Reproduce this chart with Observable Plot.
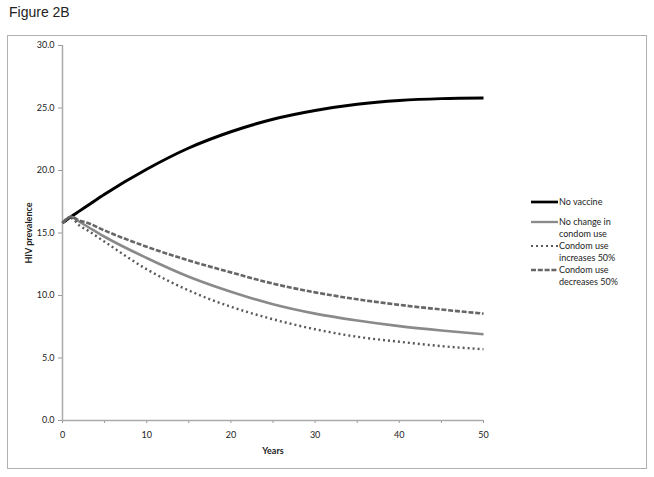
<!DOCTYPE html>
<html>
<head>
<meta charset="utf-8">
<script src="https://cdn.jsdelivr.net/npm/d3@7"></script>
<script src="https://cdn.jsdelivr.net/npm/@observablehq/plot@0.6"></script>
<style>
  body { margin: 0; background: #fff; }
  #wrap { position: relative; width: 654px; height: 477px; overflow: hidden; font-family: "Liberation Sans", Arial, sans-serif; }
  #title { position: absolute; left: 9px; top: 4px; font-size: 14px; color: #222; }
  #frame { position: absolute; left: 7px; top: 35px; width: 638px; height: 432px; border: 1.5px solid #b0b0b0; }
  #chart { position: absolute; left: 0; top: 0; }
  #legend { position: absolute; left: 531px; top: 196px; font-family: Lato, "Open Sans", sans-serif; font-size: 9px; color: #222; line-height: 12px; }
  #legend .row { display: flex; align-items: flex-start; }
  #legend svg { flex: none; margin-top: 0px; }
  g[aria-label="y-axis label"] text, g[aria-label="x-axis label"] text { font-weight: bold; }
</style>
</head>
<body>
<div id="wrap">
  <div id="title">Figure 2B</div>
  <div id="frame"></div>
  <div id="chart"></div>
  <div id="legend"></div>
</div>
<script>
const years = [0, 1, 2, 3, 5, 10, 15, 20, 25, 30, 35, 40, 45, 50];
const noVaccine = [15.8, 16.3, 16.75, 17.2, 18.1, 20.1, 21.8, 23.1, 24.1, 24.8, 25.3, 25.6, 25.75, 25.8];
const noChange = [15.8, 16.3, 15.9, 15.5, 14.7, 13.0, 11.5, 10.3, 9.3, 8.55, 8.0, 7.55, 7.2, 6.9];
const increases = [15.8, 16.2, 15.6, 15.2, 14.3, 12.1, 10.4, 9.1, 8.1, 7.3, 6.7, 6.3, 5.95, 5.7];
const decreases = [15.8, 16.3, 16.0, 15.8, 15.2, 13.9, 12.8, 11.85, 10.95, 10.25, 9.7, 9.25, 8.88, 8.55];
const seriesNames = ["No vaccine", "No change in condom use", "Condom use increases 50%", "Condom use decreases 50%"];
const legendLines = [["No vaccine"], ["No change in", "condom use"], ["Condom use", "increases 50%"], ["Condom use", "decreases 50%"]];
const yTicks = [0, 5, 10, 15, 20, 25, 30];
const xTicks = [0, 10, 20, 30, 40, 50];
const xMinorTicks = [5, 15, 25, 35, 45];

const styles = [
  {stroke: "#000000", strokeWidth: 3, dash: null},
  {stroke: "#8a8a8a", strokeWidth: 2.6, dash: null},
  {stroke: "#5a5a5a", strokeWidth: 2.4, dash: "2,3"},
  {stroke: "#666666", strokeWidth: 2.6, dash: "5,1.8"}
];
const values = [noVaccine, noChange, increases, decreases];

const lineMarks = values.map((vals, k) => Plot.line(years.map((y, i) => ({year: y, value: vals[i], series: seriesNames[k]})), {
  x: "year", y: "value", curve: "monotone-x",
  stroke: styles[k].stroke, strokeWidth: styles[k].strokeWidth,
  strokeDasharray: styles[k].dash || undefined,
  strokeLinecap: "butt"
}));

const chart = Plot.plot({
  width: 654, height: 477,
  marginLeft: 62, marginRight: 171, marginTop: 45, marginBottom: 57,
  style: {fontFamily: "Lato, 'Open Sans', sans-serif", fontSize: "9px", color: "#222", background: "transparent"},
  x: {type: "linear", domain: [0, 50]},
  y: {type: "linear", domain: [0, 30]},
  marks: [
    Plot.axisY({ticks: yTicks, tickFormat: d => d.toFixed(1), tickSize: 4, tickPadding: 4, stroke: "#999",
      label: "HIV prevalence", labelAnchor: "center", labelArrow: "none", labelOffset: 37}),
    Plot.axisX({ticks: xTicks, tickFormat: d => String(d), tickSize: 3, tickPadding: 8, stroke: "#999",
      label: "Years", labelAnchor: "center", labelArrow: "none", labelOffset: 33}),
    Plot.axisX({ticks: xMinorTicks, tickFormat: () => "", tickSize: 3, stroke: "#999", label: null}),
    Plot.ruleX([0], {stroke: "#aaa", strokeWidth: 1.5}),
    Plot.ruleY([0], {stroke: "#aaa", strokeWidth: 1.5}),
    ...lineMarks
  ]
});
document.getElementById("chart").appendChild(chart);

// legend
const legend = document.getElementById("legend");
legendLines.forEach((lines, k) => {
  const row = document.createElement("div");
  row.className = "row";
  row.style.marginBottom = k === 0 ? "8px" : "0px";
  const ns = "http://www.w3.org/2000/svg";
  const svg = document.createElementNS(ns, "svg");
  svg.setAttribute("width", 28); svg.setAttribute("height", 12);
  const ln = document.createElementNS(ns, "line");
  ln.setAttribute("x1", 0); ln.setAttribute("x2", 27); ln.setAttribute("y1", 6); ln.setAttribute("y2", 6);
  ln.setAttribute("stroke", styles[k].stroke);
  ln.setAttribute("stroke-width", styles[k].strokeWidth * 0.9);
  if (styles[k].dash) ln.setAttribute("stroke-dasharray", styles[k].dash);
  svg.appendChild(ln);
  row.appendChild(svg);
  const txt = document.createElement("div");
  txt.innerHTML = lines.join("<br>");
  row.appendChild(txt);
  legend.appendChild(row);
});
</script>
</body>
</html>
